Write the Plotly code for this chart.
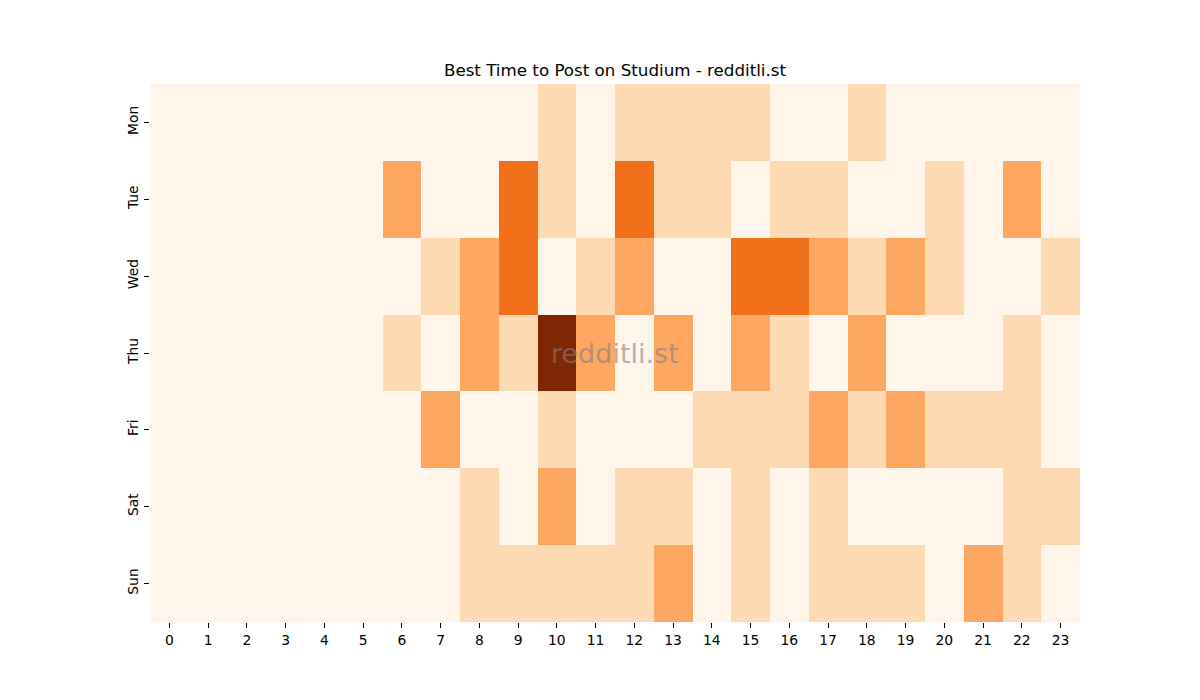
import plotly.graph_objects as go

days = ["Mon", "Tue", "Wed", "Thu", "Fri", "Sat", "Sun"]
hours = list(range(24))

mon = [0,0,0,0,0,0,0,0,0,0,1,0,1,1,1,1,0,0,1,0,0,0,0,0]
tue = [0,0,0,0,0,0,2,0,0,3,1,0,3,1,1,0,1,1,0,0,1,0,2,0]
wed = [0,0,0,0,0,0,0,1,2,3,0,1,2,0,0,3,3,2,1,2,1,0,0,1]
thu = [0,0,0,0,0,0,1,0,2,1,5,2,0,2,0,2,1,0,2,0,0,0,1,0]
fri = [0,0,0,0,0,0,0,2,0,0,1,0,0,0,1,1,1,2,1,2,1,1,1,0]
sat = [0,0,0,0,0,0,0,0,1,0,2,0,1,1,0,1,0,1,0,0,0,0,1,1]
sun = [0,0,0,0,0,0,0,0,1,1,1,1,1,2,0,1,0,1,1,1,0,2,1,0]

z = [mon, tue, wed, thu, fri, sat, sun]

font = "DejaVu Sans"

fig = go.Figure(go.Heatmap(
    z=z, x=hours, y=days,
    colorscale="Oranges", zmin=0, zmax=5,
    showscale=False, hoverongaps=False,
))

fig.update_layout(
    width=1200, height=700,
    margin=dict(l=150, r=120, t=84, b=78),
    paper_bgcolor="white", plot_bgcolor="white",
    font=dict(family=font, size=13.9, color="black"),
    title=dict(text="Best Time to Post on Studium - redditli.st",
               x=0.5, xanchor="center", xref="paper",
               y=1 - 70/700, yanchor="middle", yref="container",
               font=dict(size=16.7, family=font, color="black")),
    annotations=[dict(text="redditli.st", x=0.5, y=0.5, xref="paper", yref="paper",
                      showarrow=False, font=dict(size=27, family=font, color="rgba(128,128,128,0.6)"))],
)
fig.update_xaxes(tickmode="array", tickvals=hours, ticktext=[str(h) for h in hours],
                 ticks="outside", ticklen=5, tickcolor="black", showgrid=False,
                 showline=False, zeroline=False, tickangle=0,
                 tickfont=dict(size=13.9, family=font, color="black"))
fig.update_yaxes(autorange="reversed", tickmode="array", tickvals=days, ticktext=days,
                 ticks="outside", ticklen=5, tickcolor="black", showgrid=False,
                 showline=False, zeroline=False, tickangle=-90,
                 tickfont=dict(size=13.9, family=font, color="black"))

fig.write_html("out.html")
